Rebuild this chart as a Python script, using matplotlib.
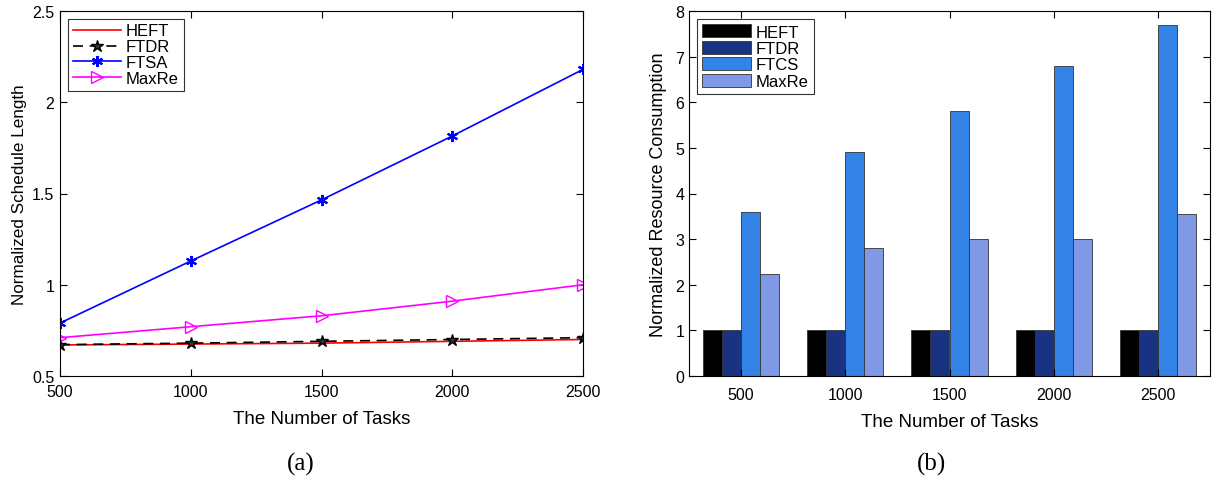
import matplotlib
matplotlib.use("Agg")
import matplotlib.pyplot as plt
import numpy as np

plt.rcParams['font.family'] = ['Liberation Sans', 'DejaVu Sans']

tasks = [500, 1000, 1500, 2000, 2500]
tick_labels = ['500', '1000', '1500', '2000', '2500']

# (a) Normalized schedule length
heft_len = [0.670, 0.675, 0.680, 0.690, 0.700]
ftdr_len = [0.672, 0.680, 0.690, 0.700, 0.710]
ftsa_len = [0.79, 1.13, 1.465, 1.815, 2.18]
maxre_len = [0.71, 0.77, 0.83, 0.91, 1.00]

# (b) Normalized resource consumption
heft_res = [1.0, 1.0, 1.0, 1.0, 1.0]
ftdr_res = [1.0, 1.0, 1.0, 1.0, 1.0]
ftcs_res = [3.6, 4.9, 5.8, 6.8, 7.7]
maxre_res = [2.23, 2.8, 3.0, 3.0, 3.55]

W, H = 1218, 481
fig = plt.figure(figsize=(W / 100, H / 100), dpi=100)

def ax_rect(x0, y0, x1, y1):
    return [x0 / W, 1 - y1 / H, (x1 - x0) / W, (y1 - y0) / H]

fs_tick = 11.5
fs_leg = 12
fs_xlabel = 13.5

# ---------- (a) ----------
ax1 = fig.add_axes(ax_rect(60, 12, 583, 377))
ax1.plot(tasks, heft_len, color='red', lw=1.2, label='HEFT')
ax1.plot(tasks, ftdr_len, color='black', lw=1.2, ls=(0, (6, 4)), marker='*',
         ms=9, mfc='#333333', mec='black', label='FTDR')
ax1.plot(tasks, ftsa_len, color='blue', lw=1.2, marker=(6, 2, 0), ms=8,
         mew=1.5, label='FTSA')
ax1.plot(tasks, maxre_len, color='magenta', lw=1.2, marker='>', ms=8,
         mfc='none', mec='magenta', label='MaxRe')
ax1.set_xlim(500, 2500)
ax1.set_ylim(0.5, 2.5)
ax1.set_xticks(tasks)
ax1.set_xticklabels(tick_labels)
ax1.set_yticks([0.5, 1, 1.5, 2, 2.5])
ax1.set_yticklabels(['0.5', '1', '1.5', '2', '2.5'])
ax1.tick_params(direction='in', top=True, right=True, labelsize=fs_tick,
                length=5, width=0.8)
ax1.tick_params(axis='x', pad=6)
ax1.tick_params(axis='y', pad=4)
ax1.set_xlabel('The Number of Tasks', fontsize=fs_xlabel, labelpad=8)
ax1.set_ylabel('Normalized Schedule Length', fontsize=12.3, labelpad=4)
leg1 = ax1.legend(loc='upper left', fontsize=fs_leg, frameon=True, fancybox=False,
                  edgecolor='black', handlelength=2.9, borderpad=0.3,
                  labelspacing=0.05, handletextpad=0.3, borderaxespad=0.45)
leg1.get_frame().set_linewidth(0.8)
for s in ax1.spines.values():
    s.set_linewidth(0.8)

# ---------- (b) ----------
ax2 = fig.add_axes(ax_rect(689, 12, 1210, 377))
x = np.arange(1, len(tasks) + 1)
bw = 0.183
series = [(heft_res, '#000000', 'HEFT'),
          (ftdr_res, '#1a3282', 'FTDR'),
          (ftcs_res, '#3382e6', 'FTCS'),
          (maxre_res, '#8099e6', 'MaxRe')]
for i, (vals, col, lab) in enumerate(series):
    ax2.bar(x + (i - 1.5) * bw, vals, width=bw, color=col, edgecolor='#333333',
            linewidth=0.6, label=lab)
ax2.set_xlim(0.5, 5.5)
ax2.set_ylim(0, 8)
ax2.set_xticks(x)
ax2.set_xticklabels(tick_labels)
ax2.set_yticks(range(0, 9))
ax2.tick_params(direction='in', top=True, right=True, labelsize=fs_tick,
                length=5, width=0.8)
ax2.tick_params(axis='x', pad=8)
ax2.set_xlabel('The Number of Tasks', fontsize=fs_xlabel, labelpad=8)
ax2.set_ylabel('Normalized Resource Consumption', fontsize=13, labelpad=6)
leg2 = ax2.legend(loc='upper left', fontsize=fs_leg, frameon=True, fancybox=False,
                  edgecolor='black', handlelength=2.9, handleheight=0.8,
                  borderpad=0.3, labelspacing=0.08, handletextpad=0.3,
                  borderaxespad=0.5)
leg2.get_frame().set_linewidth(0.8)
for s in ax2.spines.values():
    s.set_linewidth(0.8)

fig.text(301 / W, 1 - 464 / H, '(a)', ha='center', va='center', fontsize=18,
         family='Liberation Serif')
fig.text(932 / W, 1 - 464 / H, '(b)', ha='center', va='center', fontsize=18,
         family='Liberation Serif')

fig.savefig('out.png', dpi=100)
